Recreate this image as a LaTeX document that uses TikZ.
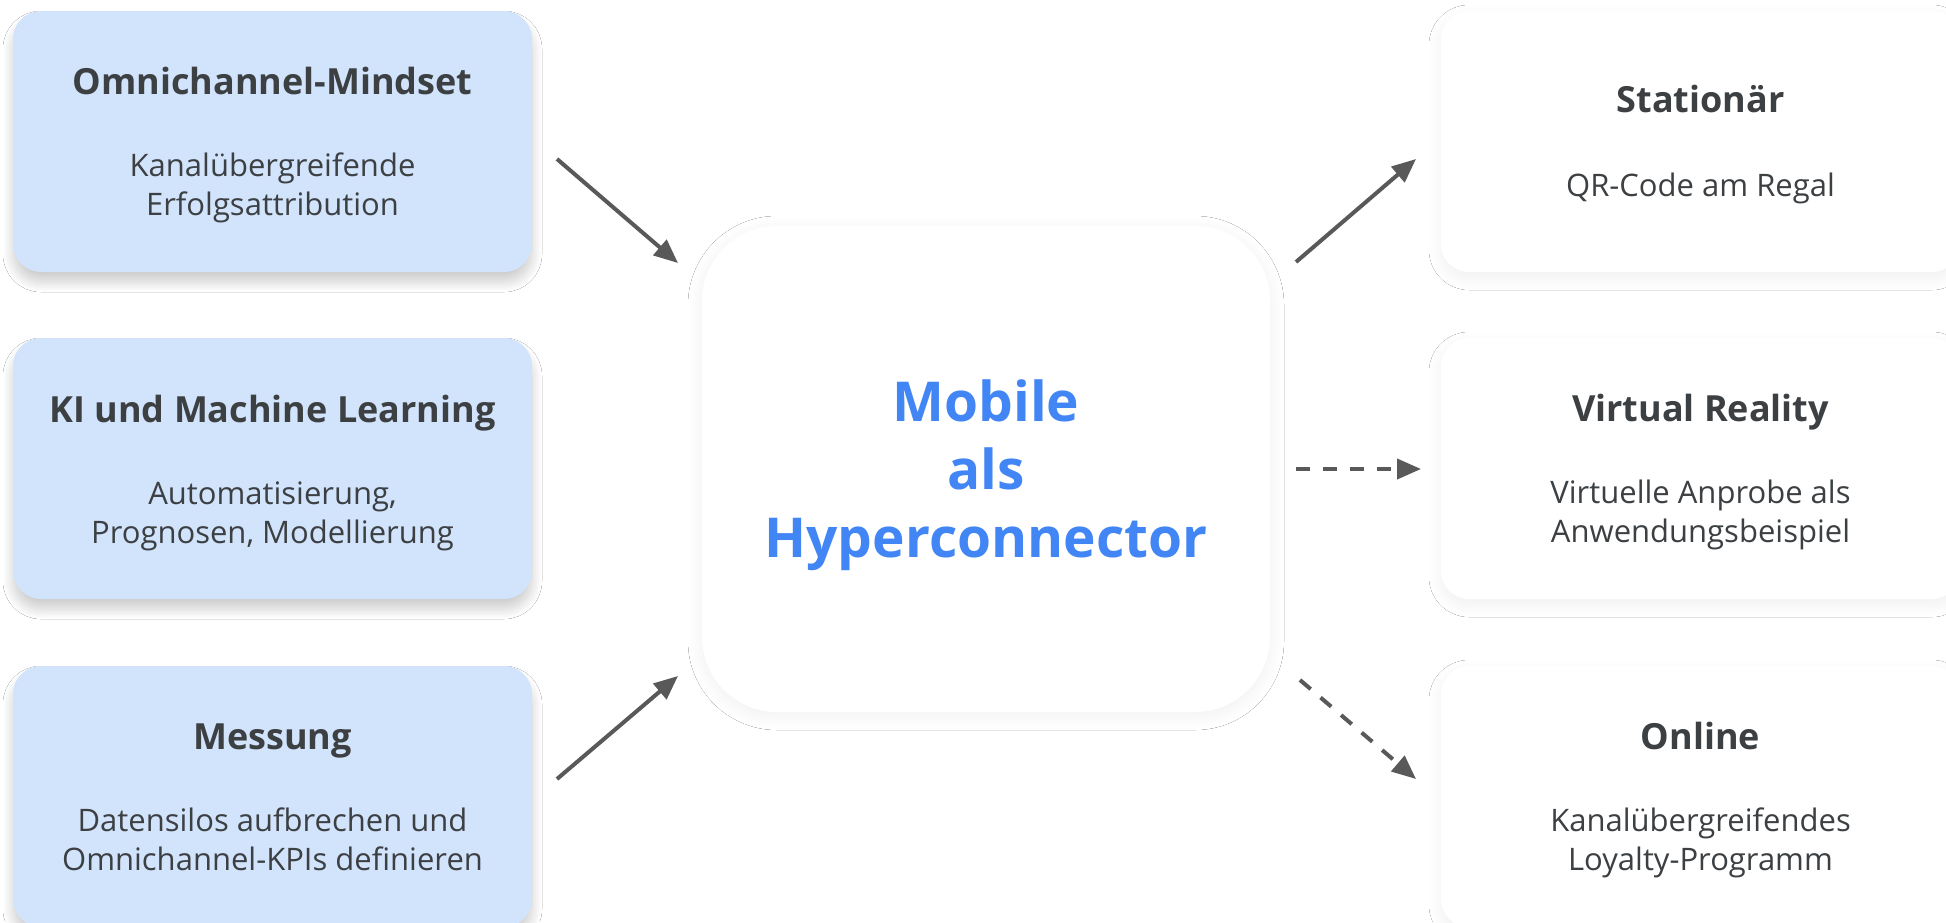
\documentclass[tikz,border=0pt]{standalone}
\usepackage{fontspec}
\setmainfont{Open Sans}
\usetikzlibrary{arrows.meta,shadows.blur,calc}
\definecolor{boxblue}{HTML}{D2E3FC}
\definecolor{txtgrey}{HTML}{3C4043}
\definecolor{arrgrey}{HTML}{595959}
\definecolor{gblue}{HTML}{4285F4}
\tikzset{
  leftbox/.style={draw=none, fill=boxblue, rounded corners=28pt, minimum width=519pt, minimum height=261pt, inner sep=0pt,
    blur shadow={shadow xshift=0pt, shadow yshift=-10pt, shadow blur radius=10pt, shadow opacity=20, shadow blur steps=20}},
  rightbox/.style={draw=none, fill=white, rounded corners=28pt, minimum width=519pt, minimum height=261pt, inner sep=0pt,
    blur shadow={shadow xshift=0pt, shadow yshift=-6pt, shadow blur radius=12pt, shadow opacity=6, shadow blur steps=20}},
  hubbox/.style={draw=none, fill=white, rounded corners=75pt, minimum width=568pt, minimum height=486pt, inner sep=0pt,
    blur shadow={shadow xshift=0pt, shadow yshift=-4pt, shadow blur radius=14pt, shadow opacity=6, shadow blur steps=20}},
  ttl/.style={anchor=base, font=\fontsize{36}{40}\selectfont\bfseries, text=txtgrey, inner sep=0pt},
  subttl/.style={anchor=base, align=center, font=\fontsize{31}{39}\selectfont, text=txtgrey, inner sep=0pt},
  hubtext/.style={anchor=base, align=center, font=\fontsize{55}{68}\selectfont\bfseries, text=gblue, inner sep=0pt},
  arrowline/.style={draw=arrgrey, line width=4pt, -{Triangle[length=24pt,width=20pt]}},
  dashline/.style={arrowline, dash pattern=on 14pt off 13pt},
}
\begin{document}
\begin{tikzpicture}[x=1pt, y=-1pt]
\useasboundingbox (0,0) rectangle (1946,922);
\clip (0,0) rectangle (1946,922);
\fill[white] (0,0) rectangle (1946,922);

% left boxes
\node[leftbox] (omni) at (272.5,141.5) {};
\node[leftbox] (ki) at (272.5,468.5) {};
\node[leftbox] (mess) at (272.5,796.5) {};
% center
\node[hubbox] (hub) at (986,469) {};
% right boxes
\node[rightbox] (stat) at (1700.5,141.5) {};
\node[rightbox] (vr) at (1700.5,468.5) {};
\node[rightbox] (onl) at (1700.5,796.5) {};

% texts (base anchor = baseline of the last line)
\node[ttl] (omni-t) at ($(omni.north)+(0,84)$) {Omnichannel-Mindset};
\node[subttl] (omni-s) at ($(omni.north)+(0,205)$) {Kanalübergreifende\\Erfolgsattribution};
\node[ttl] (ki-t) at ($(ki.north)+(0,85)$) {KI und Machine Learning};
\node[subttl] (ki-s) at ($(ki.north)+(0,206)$) {Automatisierung,\\Prognosen, Modellierung};
\node[ttl] (mess-t) at ($(mess.north)+(0,84)$) {Messung};
\node[subttl] (mess-s) at ($(mess.north)+(0,205)$) {Datensilos aufbrechen und\\Omnichannel-KPIs definieren};

\node[hubtext] (hub-t) at (986,557) {Mobile\\als\\Hyperconnector};

\node[ttl] (stat-t) at ($(stat.north)+(0,102)$) {Stationär};
\node[subttl] (stat-s) at ($(stat.north)+(0,186)$) {QR-Code am Regal};
\node[ttl] (vr-t) at ($(vr.north)+(0,84)$) {Virtual Reality};
\node[subttl] (vr-s) at ($(vr.north)+(0,205)$) {Virtuelle Anprobe als\\Anwendungsbeispiel};
\node[ttl] (onl-t) at ($(onl.north)+(0,84)$) {Online};
\node[subttl] (onl-s) at ($(onl.north)+(0,205)$) {Kanalübergreifendes\\Loyalty-Programm};

% arrow end points
\coordinate (a1s) at (557,159);
\coordinate (a1e) at (678,263);
\coordinate (a3s) at (557,779);
\coordinate (a3e) at (678,676);
\coordinate (b1s) at (1296,262);
\coordinate (b1e) at (1416,159);
\coordinate (b2s) at (1296,469);
\coordinate (b2e) at (1421,469);
\coordinate (b3s) at (1300,680);
\coordinate (b3e) at (1416,779);

\draw[arrowline] (a1s) -- (a1e);
\draw[arrowline] (a3s) -- (a3e);
\draw[arrowline] (b1s) -- (b1e);
\draw[dashline] (b2s) -- (b2e);
\draw[dashline] (b3s) -- (b3e);
\end{tikzpicture}
\end{document}
